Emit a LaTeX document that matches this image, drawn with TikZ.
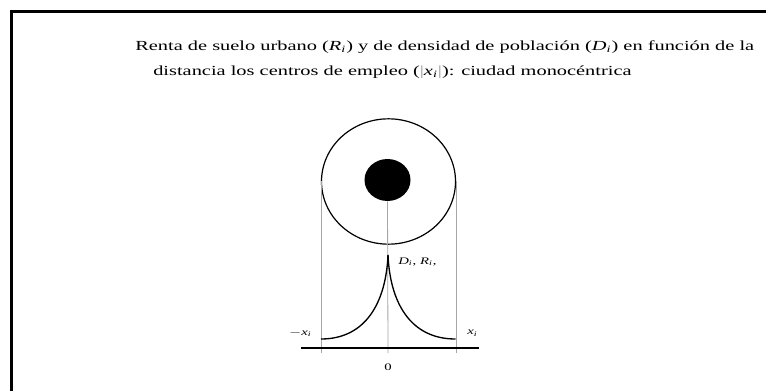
\documentclass[tikz,border=0pt]{standalone}
\usepackage{fontspec}
\setmainfont{Liberation Serif}
\usetikzlibrary{shapes.geometric}
\newcommand{\widetxt}[1]{\scalebox{1.47}[1]{#1}}
\begin{document}
\begin{tikzpicture}[x=0.75pt,y=-0.75pt,
  frame/.style={line width=2.4pt,black},
  guide/.style={line width=0.6pt,black!35},
  curve/.style={line width=1pt,black},
  titletext/.style={font=\fontsize{10.4pt}{14pt}\selectfont,inner sep=0pt,anchor=west},
  lbl/.style={font=\fontsize{7.5pt}{9pt}\selectfont,inner sep=0pt}]
\useasboundingbox (0,0) rectangle (766,391);
\fill[white] (0,0) rectangle (766,391);
% frame
\draw[frame] (11.5,391) -- (11.5,11.5) -- (766,11.5);
% title
\node[titletext] (t1) at (135,47) {\widetxt{Renta de suelo urbano (\textit{R}\textsubscript{\textit{i}}) y de densidad de población (\textit{D}\textsubscript{\textit{i}}) en función de la}};
\node[titletext] (t2) at (153,72) {\widetxt{distancia los centros de empleo (\textcolor{black!40}{|}\textit{x}\textsubscript{\textit{i}}\textcolor{black!40}{|}): ciudad monocéntrica}};
% city
\node[draw,ellipse,line width=0.9pt,minimum width=100.5pt,minimum height=94pt,inner sep=0pt] (city) at (388.5,181.5) {};
\node[fill=black,ellipse,minimum width=34.5pt,minimum height=31.5pt,inner sep=0pt] (cbd) at (387.5,180) {};
\coordinate (axl) at (301,348);
\coordinate (axr) at (479,348);
\coordinate (peak) at (388,255);
\coordinate (cl) at (321,339);
\coordinate (cr) at (455.5,339);
% guides
\draw[guide] (cbd.south) -- (388,353) coordinate (zero);
\draw[guide] (city.west) -- (city.west |- zero);
\draw[guide] (city.east) -- (city.east |- zero);
% curves
\draw[curve] (cl) .. controls (366,339) and (386,302) .. (peak);
\draw[curve] (cr) .. controls (410,339) and (390,302) .. (peak);
% axis
\draw[line width=1.6pt] (axl) -- (axr);
% labels
\node[lbl] (z) at (388,367) {\widetxt{0}};
\node[lbl,anchor=east] (mx) at (312,333) {\widetxt{$-$\textit{x}\textsubscript{\textit{i}}}};
\node[lbl,anchor=west] (px) at (467,333) {\widetxt{\textit{x}\textsubscript{\textit{i}}}};
\node[lbl,anchor=west] (dr) at (398,262) {\widetxt{\textit{D}\textsubscript{\textit{i}}, \textit{R}\textsubscript{\textit{i}},}};
\end{tikzpicture}
\end{document}
